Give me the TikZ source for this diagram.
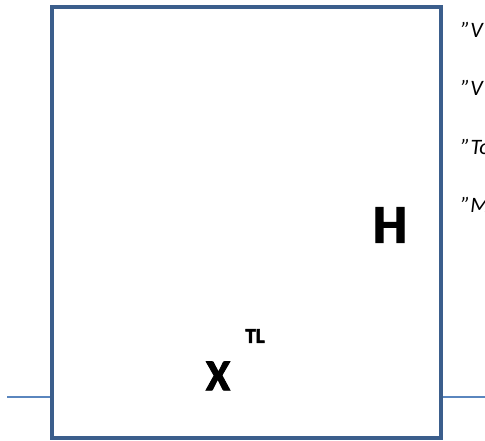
\documentclass[tikz,border=0pt]{standalone}
\usepackage{fontspec}
\setmainfont{Carlito}
\newfontfamily\heavyfont[FakeBold=2.2]{Carlito Bold}
\usepackage{xcolor}
\definecolor{boxblue}{HTML}{3B5E8C}
\definecolor{wireblue}{HTML}{5A86BE}
\usetikzlibrary{positioning}

\begin{document}
\begin{tikzpicture}[
  x=1pt, y=1pt,
  frame/.style={rectangle, draw=boxblue, line width=4pt, minimum width=389pt, minimum height=431pt, inner sep=0pt},
  wire/.style={draw=wireblue, line width=1.5pt},
  big/.style={font=\heavyfont\fontsize{54}{54}\selectfont, inner sep=0pt},
  mid/.style={font=\heavyfont\fontsize{44}{44}\selectfont, inner sep=0pt},
  small/.style={font=\heavyfont\fontsize{21}{21}\selectfont, inner sep=0pt},
  note/.style={anchor=west, font=\itshape\fontsize{22}{22}\selectfont, inner sep=0pt}
]
  \clip (0,0) rectangle (485,441);
  \useasboundingbox (0,0) rectangle (485,441);

  \node[frame] (box) at (246.5,218.5) {};

  \node[big] (h) at (390,216) {H};
  \node[mid] (x) at (218,65) {X};
  \node[small] (tl) at (255,105) {TL};

  \node[note] (n1) at (461,411) {”V};
  \node[note] (n2) at (461,353) {”V};
  \node[note] (n3) at (461,294) {”To};
  \node[note] (n4) at (461,236) {”M};

  \coordinate (lend) at (7,44);
  \coordinate (rend) at (485,44);
  \draw[wire] (lend) -- (lend -| box.west);
  \draw[wire] (box.east |- rend) -- (rend);
\end{tikzpicture}
\end{document}
